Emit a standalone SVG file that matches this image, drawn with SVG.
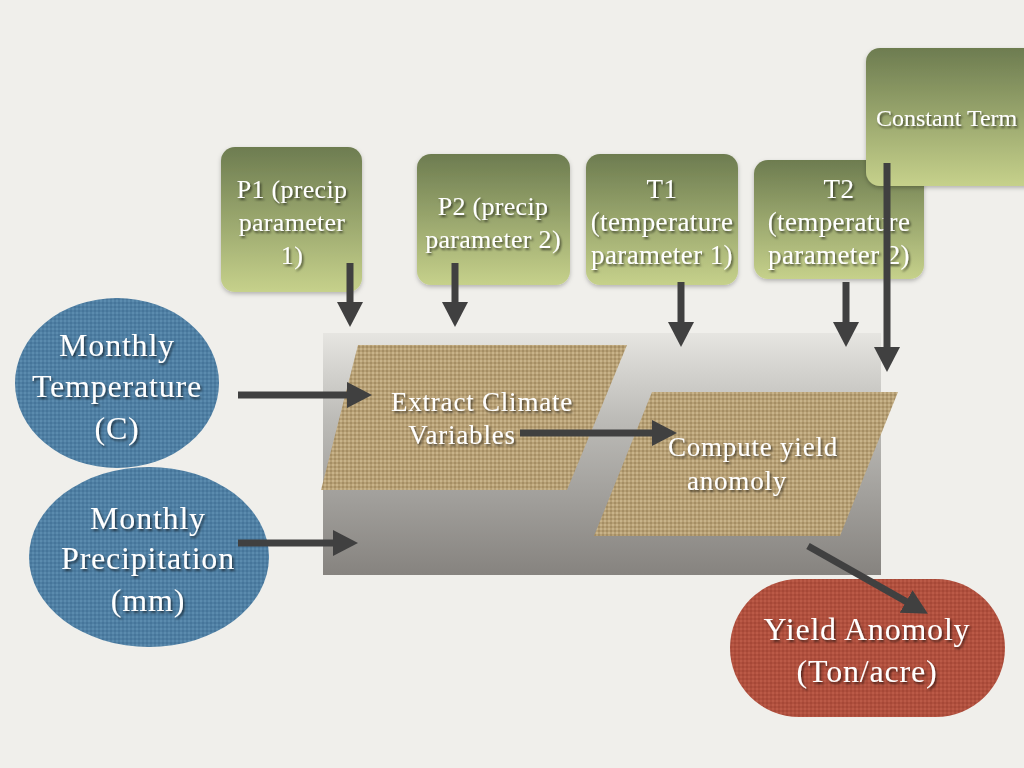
<svg xmlns="http://www.w3.org/2000/svg" width="1024" height="768" viewBox="0 0 1024 768">
<defs>
<style>
.t{font-family:"Liberation Serif","Times New Roman",serif;fill:#ffffff;text-anchor:middle;filter:url(#ts)}
.g{font-size:27px;letter-spacing:0.4px}
.e{font-size:32px;letter-spacing:0.8px}
.p{font-size:26px;letter-spacing:0.3px}
.conn line{stroke:#404040;stroke-width:7;marker-end:url(#ah)}
</style>
<filter id="ts" x="-10%" y="-20%" width="130%" height="150%">
<feDropShadow dx="1.5" dy="2" stdDeviation="0.8" flood-color="#000" flood-opacity="0.6"/>
</filter>
<filter id="bs" x="-10%" y="-10%" width="130%" height="130%">
<feDropShadow dx="0" dy="2" stdDeviation="2" flood-color="#000" flood-opacity="0.25"/>
</filter>
<linearGradient id="gg" x1="0" y1="0" x2="0" y2="1">
<stop offset="0" stop-color="#6d7c50"/>
<stop offset="1" stop-color="#c6d18b"/>
</linearGradient>
<linearGradient id="gray" x1="0" y1="0" x2="0" y2="1">
<stop offset="0" stop-color="#e6e5e1"/>
<stop offset="0.35" stop-color="#bdbcb8"/>
<stop offset="1" stop-color="#86837f"/>
</linearGradient>
<pattern id="tan" width="4" height="4" patternUnits="userSpaceOnUse">
<rect width="4" height="4" fill="#b7a075"/>
<rect width="2" height="2" fill="#c8b38a"/>
<rect x="2" y="2" width="2" height="2" fill="#a58e64"/>
</pattern>
<pattern id="blue" width="4" height="4" patternUnits="userSpaceOnUse">
<rect width="4" height="4" fill="#4f7fa3"/>
<rect width="2" height="2" fill="#5b8bae"/>
<rect x="2" y="2" width="2" height="2" fill="#46759a"/>
</pattern>
<pattern id="red" width="4" height="4" patternUnits="userSpaceOnUse">
<rect width="4" height="4" fill="#b0503e"/>
<rect width="2" height="2" fill="#bb5a47"/>
<rect x="2" y="2" width="2" height="2" fill="#a64837"/>
</pattern>
<marker id="ah" markerUnits="userSpaceOnUse" markerWidth="26" markerHeight="28" refX="1" refY="14" orient="auto" viewBox="0 0 26 28">
<path d="M0,1 L25,14 L0,27 z" fill="#404040"/>
</marker>
</defs>
<rect width="1024" height="768" fill="#f0efeb"/>

<g id="process-area">
<rect x="323" y="333" width="558" height="242" fill="url(#gray)"/>
</g>

<g id="extract">
<polygon points="358,345 627,345 567,490 321,490" fill="url(#tan)"/>
<text class="t e" x="482" y="411" style="font-size:27px">Extract Climate</text>
<text class="t e" x="462" y="444" style="font-size:27px">Variables</text>
</g>

<g id="compute">
<polygon points="652,392 898,392 840,536 594,536" fill="url(#tan)"/>
<text class="t e" x="753" y="456" style="font-size:27px">Compute yield</text>
<text class="t e" x="737" y="490" style="font-size:27px">anomoly</text>
</g>

<g id="temp">
<ellipse cx="117" cy="383" rx="102" ry="85" fill="url(#blue)"/>
<text class="t e" x="117" y="356">Monthly</text>
<text class="t e" x="117" y="397">Temperature</text>
<text class="t e" x="117" y="439">(C)</text>
</g>

<g id="precip">
<ellipse cx="149" cy="557" rx="120" ry="90" fill="url(#blue)"/>
<text class="t e" x="148" y="529">Monthly</text>
<text class="t e" x="148" y="569">Precipitation</text>
<text class="t e" x="148" y="611">(mm)</text>
</g>

<g id="yield">
<rect x="730" y="579" width="275" height="138" rx="69" ry="69" fill="url(#red)"/>
<text class="t e" x="867" y="640">Yield Anomoly</text>
<text class="t e" x="867" y="682">(Ton/acre)</text>
</g>

<g id="p1">
<rect x="221" y="147" width="141" height="145" rx="14" fill="url(#gg)" filter="url(#bs)"/>
<text class="t p" x="292" y="198">P1 (precip</text>
<text class="t p" x="292" y="231">parameter</text>
<text class="t p" x="292" y="264">1)</text>
</g>

<g id="p2">
<rect x="417" y="154" width="153" height="131" rx="14" fill="url(#gg)" filter="url(#bs)"/>
<text class="t p" x="493" y="215">P2 (precip</text>
<text class="t p" x="493" y="248">parameter 2)</text>
</g>

<g id="t1">
<rect x="586" y="154" width="152" height="131" rx="14" fill="url(#gg)" filter="url(#bs)"/>
<text class="t g" x="662" y="198">T1</text>
<text class="t g" x="662" y="231">(temperature</text>
<text class="t g" x="662" y="264">parameter 1)</text>
</g>

<g id="t2">
<rect x="754" y="160" width="170" height="119" rx="14" fill="url(#gg)" filter="url(#bs)"/>
<text class="t g" x="839" y="198">T2</text>
<text class="t g" x="839" y="231">(temperature</text>
<text class="t g" x="839" y="264">parameter 2)</text>
</g>

<g id="const">
<rect x="866" y="48" width="200" height="138" rx="14" fill="url(#gg)" filter="url(#bs)"/>
<text class="t" x="876" y="126" style="text-anchor:start;font-size:24px">Constant Term</text>
</g>

<g class="conn" id="connectors">
<line x1="350" y1="263" x2="350" y2="303"/>
<line x1="455" y1="263" x2="455" y2="303"/>
<line x1="681" y1="282" x2="681" y2="323"/>
<line x1="846" y1="282" x2="846" y2="323"/>
<line x1="887" y1="163" x2="887" y2="348"/>
<line x1="238" y1="395" x2="348" y2="395"/>
<line x1="238" y1="543" x2="334" y2="543"/>
<line x1="520" y1="433" x2="653" y2="433"/>
<line x1="808" y1="546" x2="907" y2="602"/>
</g>
</svg>
